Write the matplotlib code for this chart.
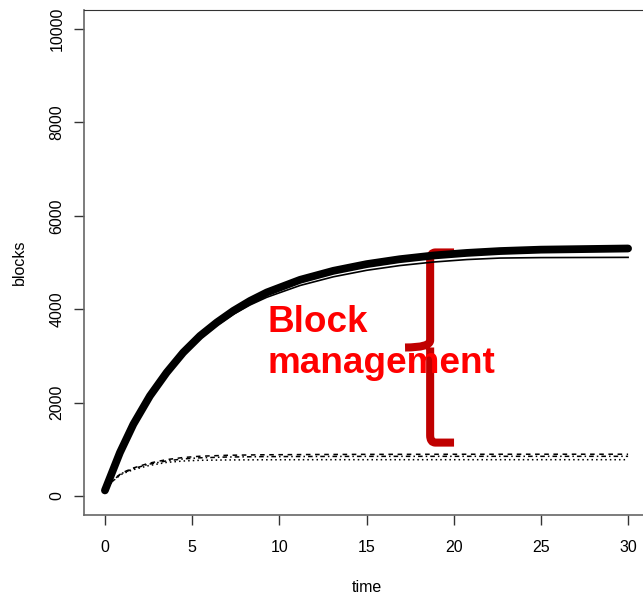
import matplotlib.pyplot as plt
from matplotlib.path import Path
from matplotlib.patches import PathPatch

plt.rcParams["font.family"] = ["Liberation Sans", "DejaVu Sans"]

# total blocks over time (thick = with block management, thin = reference run)
t_main = [0, 0.1, 0.86, 1.63, 2.58, 3.54, 4.49, 5.45, 6.41, 7.36, 8.32, 9.28,
          11.19, 13.1, 15.01, 16.9, 18.84, 20.75, 22.66, 25, 30]
blocks_managed = [120, 214, 930, 1536, 2143, 2644, 3073, 3428, 3715, 3964, 4178,
                  4358, 4629, 4822, 4965, 5070, 5150, 5205, 5245, 5275, 5300]
blocks_plain = [120, 200, 900, 1500, 2100, 2590, 3010, 3360, 3650, 3890, 4090,
                4255, 4508, 4694, 4833, 4934, 5010, 5063, 5095, 5105, 5110]

# the three low curves
t_low = [0, 0.3, 0.67, 1, 1.63, 2.5, 3.54, 4.5, 5.45, 7, 9, 12, 15, 20, 25, 30]
low_dashed = [120, 270, 410, 500, 600, 700, 780, 825, 852, 872, 883, 889, 892,
              894, 895, 895]
low_dotdash = [120, 265, 400, 490, 585, 680, 752, 795, 818, 835, 843, 847, 849,
               850, 850, 850]
low_dotted = [120, 260, 390, 475, 565, 650, 720, 750, 765, 772, 776, 778, 778,
              778, 778, 778]

x_ticks = [0, 5, 10, 15, 20, 25, 30]
y_ticks = [0, 2000, 4000, 6000, 8000, 10000]

fig = plt.figure(figsize=(6.43, 5.97), dpi=100)
ax = fig.add_axes([84 / 643, 82.3 / 597, 565 / 643, 504.4 / 597])

ax.plot(t_main, blocks_plain, color="black", lw=1.2)
ax.plot(t_main, blocks_managed, color="black", lw=5.6, solid_capstyle="round",
        solid_joinstyle="round")
ax.plot(t_low, low_dashed, color="black", lw=1.1, dashes=(3, 3))
ax.plot(t_low, low_dotdash, color="black", lw=1.1, dashes=(1, 2, 3, 2))
ax.plot(t_low, low_dotted, color="black", lw=1.1, dashes=(1, 2))

# brace marking the gap between the curves
brace_verts = [
    (20.02, 5215), (18.95, 5215), (18.65, 5215), (18.65, 5050),
    (18.65, 3330), (18.65, 3180), (17.21, 3180),
    (18.65, 3180), (18.65, 3030), (18.65, 1300), (18.65, 1144), (18.95, 1144),
    (20.02, 1144),
]
brace_codes = [
    Path.MOVETO, Path.LINETO, Path.CURVE3, Path.CURVE3,
    Path.LINETO, Path.CURVE3, Path.CURVE3,
    Path.MOVETO, Path.LINETO, Path.LINETO, Path.CURVE3, Path.CURVE3,
    Path.LINETO,
]
ax.add_patch(PathPatch(Path(brace_verts, brace_codes), fill=False,
                       edgecolor="#C00000", lw=5.8, capstyle="butt",
                       joinstyle="round"))

ax.text(9.35, 3514, "Block", color="#FF0000", fontsize=26.6, fontweight="bold",
        va="baseline", ha="left")
ax.text(9.35, 2644, "management", color="#FF0000", fontsize=26.6,
        fontweight="bold", va="baseline", ha="left")

ax.set_xlim(-1.2, 31.2)
ax.set_ylim(-400, 10400)
ax.set_xticks(x_ticks)
ax.set_yticks(y_ticks)
ax.set_yticklabels([str(v) for v in y_ticks], rotation=90, va="center")
ax.tick_params(axis="both", length=7, width=1, color="#333333",
               labelsize=11.5, labelcolor="black")
ax.tick_params(axis="x", pad=11)
ax.tick_params(axis="y", pad=7)

for side in ["left", "bottom"]:
    ax.spines[side].set_color("#666666")
    ax.spines[side].set_linewidth(1.2)
ax.spines["top"].set_color("#333333")
ax.spines["right"].set_color("#333333")

ax.set_xlabel("time", fontsize=11.5, labelpad=18)
ax.set_ylabel("blocks", fontsize=11.5, labelpad=16)

plt.savefig("out.png", dpi=100)
plt.close()
